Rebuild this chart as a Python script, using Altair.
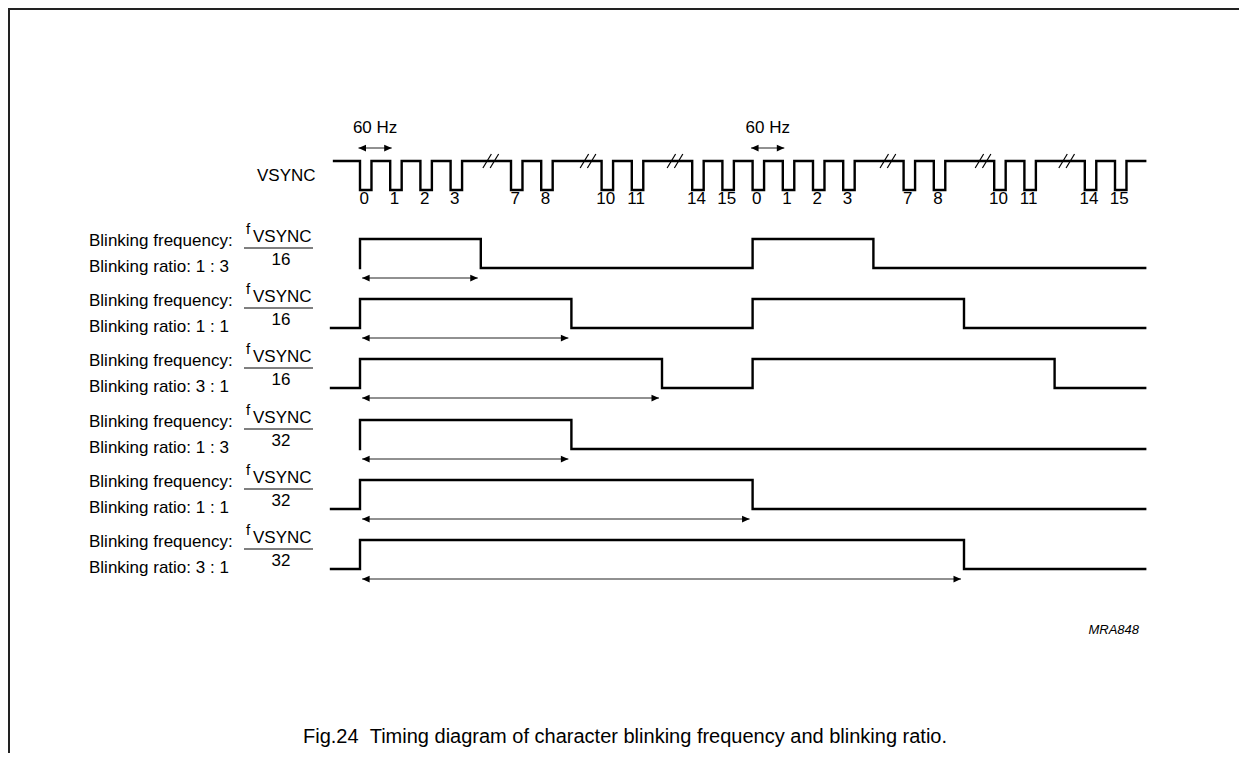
import altair as alt
import pandas as pd

# ---------------- data (time measured in VSYNC slots of the drawing) ----------------
PULSE_SLOTS = [0, 1, 2, 3, 5, 6, 8, 9, 11, 12, 13, 14, 15, 16, 18, 19, 21, 22, 24, 25]
PULSE_LABELS = ["0", "1", "2", "3", "7", "8", "10", "11", "14", "15",
                "0", "1", "2", "3", "7", "8", "10", "11", "14", "15"]
PULSE_WIDTH = 0.38
BREAK_SLOTS = [4.33, 7.55, 10.43, 17.48, 20.63, 23.4]
VSYNC_START = -0.86
TRACE_END = 26.0
PERIOD_MARKERS = [0, 13]          # "60 Hz" spans start here, one slot long

ROW_DIVISORS = ["16", "16", "16", "32", "32", "32"]
ROW_RATIOS = ["1 : 3", "1 : 1", "3 : 1", "1 : 3", "1 : 1", "3 : 1"]
ROW_HIGH = [[(0, 4), (13, 17)], [(0, 7), (13, 20)], [(0, 10), (13, 23)],
            [(0, 7)], [(0, 13)], [(0, 20)]]
ROW_LEAD_IN = [False, True, True, False, True, True]
LEAD_IN_START = -0.96

CAPTION = "Fig.24\u00a0\u00a0Timing diagram of character blinking frequency and blinking ratio."

# ---------------- layout ----------------
W, H = 1231, 745
OX, OY = 8, 8                     # page offset of the view
X0 = (OX - 360) / 30.2
X1 = (OX + W - 360) / 30.2
VS_HIGH, VS_LOW = 161, 190
ROW_TOP = [239, 299, 359, 420, 480, 540]
AMP = 29
FONT = "Liberation Sans"

xs = alt.Scale(domain=[X0, X1], nice=False, zero=False)
ys = alt.Scale(domain=[OY + H, OY], nice=False, zero=False)

# ---------------- build traces ----------------
rows = []
def add(trace, pts):
    for i, (s, y) in enumerate(pts):
        rows.append({"trace": trace, "order": i, "s": s, "y": y})

pts = [(VSYNC_START, VS_HIGH)]
for p in PULSE_SLOTS:
    pts += [(p, VS_HIGH), (p, VS_LOW), (p + PULSE_WIDTH, VS_LOW), (p + PULSE_WIDTH, VS_HIGH)]
pts.append((TRACE_END, VS_HIGH))
add("vsync", pts)

for k, spans in enumerate(ROW_HIGH):
    hi, lo = ROW_TOP[k], ROW_TOP[k] + AMP
    pts = [(LEAD_IN_START, lo)] if ROW_LEAD_IN[k] else []
    for a, b in spans:
        pts += [(a, lo), (a, hi), (b, hi), (b, lo)]
    pts.append((TRACE_END, lo))
    add(f"row{k}", pts)
traces = pd.DataFrame(rows)

slashes = []
for b in BREAK_SLOTS:
    for d in (-0.12, 0.12):
        slashes.append({"s": b + d - 0.14, "s2": b + d + 0.14, "y": VS_HIGH + 7, "y2": VS_HIGH - 7})
slashes = pd.DataFrame(slashes)

arrows = []
for m in PERIOD_MARKERS:
    arrows.append({"s": m - 0.05, "s2": m + 1.05, "y": 148})
for k, spans in enumerate(ROW_HIGH):
    arrows.append({"s": 0.07, "s2": spans[0][1] - 0.1, "y": ROW_TOP[k] + 39})
arrows = pd.DataFrame(arrows)

pulse_txt = pd.DataFrame({"s": [p + PULSE_WIDTH / 2 - 0.05 for p in PULSE_SLOTS],
                          "y": [199] * len(PULSE_SLOTS), "t": PULSE_LABELS})
hz_txt = pd.DataFrame({"s": [m + 0.5 for m in PERIOD_MARKERS], "y": [128] * len(PERIOD_MARKERS),
                       "t": ["60 Hz"] * len(PERIOD_MARKERS)})

lab = pd.DataFrame({
    "y_freq": [t + 2 for t in ROW_TOP],
    "y_ratio": [t + 28 for t in ROW_TOP],
    "y_f": [t - 10 for t in ROW_TOP],
    "y_vs": [t - 2 for t in ROW_TOP],
    "y_line": [t + 9 for t in ROW_TOP],
    "y_den": [t + 21 for t in ROW_TOP],
    "ratio": ["Blinking ratio: " + r for r in ROW_RATIOS],
    "den": ROW_DIVISORS,
})

X = lambda f="s": alt.X(f"{f}:Q", scale=xs, axis=None)
Y = lambda f="y": alt.Y(f"{f}:Q", scale=ys, axis=None)

wave = alt.Chart(traces).mark_line(color="black", strokeWidth=2.4, strokeJoin="miter",
                                   strokeCap="square").encode(
    x=X(), y=Y(), detail="trace:N", order="order:Q")

slash = alt.Chart(slashes).mark_rule(color="black", strokeWidth=1.2).encode(
    x=X(), x2="s2:Q", y=Y(), y2="y2:Q")

shaft = alt.Chart(arrows).mark_rule(color="#222", strokeWidth=1).encode(
    x=X(), x2="s2:Q", y=Y())
head_l = alt.Chart(arrows).mark_point(shape="M0,0L1,-0.45L1,0.45Z", filled=True, size=225,
                                       color="black", opacity=1, strokeWidth=0).encode(x=X(), y=Y())
head_r = alt.Chart(arrows).mark_point(shape="M0,0L-1,-0.45L-1,0.45Z", filled=True, size=225,
                                       color="black", opacity=1, strokeWidth=0).encode(x=X("s2"), y=Y())

pulse_lab = alt.Chart(pulse_txt).mark_text(font=FONT, fontSize=17, align="center",
                                           baseline="middle", color="black").encode(
    x=X(), y=Y(), text="t:N")
hz_lab = alt.Chart(hz_txt).mark_text(font=FONT, fontSize=17, align="center",
                                     baseline="middle", color="black").encode(
    x=X(), y=Y(), text="t:N")

vs_name = alt.Chart(pd.DataFrame({"y": [176], "t": ["VSYNC"]})).mark_text(
    font=FONT, fontSize=17, align="left", baseline="middle", color="black").encode(
    x=alt.value(257 - OX), y=Y(), text="t:N")

lbase = alt.Chart(lab)
freq_t = lbase.mark_text(font=FONT, fontSize=17, align="left", baseline="middle",
                         color="black", text="Blinking frequency:").encode(
    x=alt.value(89 - OX), y=Y("y_freq"))
ratio_t = lbase.mark_text(font=FONT, fontSize=17, align="left", baseline="middle",
                          color="black").encode(x=alt.value(89 - OX), y=Y("y_ratio"), text="ratio:N")
f_t = lbase.mark_text(font=FONT, fontSize=15, align="center", baseline="middle",
                      color="black", text="f").encode(x=alt.value(248 - OX), y=Y("y_f"))
vs_t = lbase.mark_text(font=FONT, fontSize=17, align="left", baseline="middle",
                       color="black", text="VSYNC").encode(x=alt.value(253 - OX), y=Y("y_vs"))
frac = lbase.mark_rule(color="black", strokeWidth=1).encode(
    x=alt.value(244 - OX), x2=alt.value(313 - OX), y=Y("y_line"))
den_t = lbase.mark_text(font=FONT, fontSize=17, align="center", baseline="middle",
                        color="black").encode(x=alt.value(281 - OX), y=Y("y_den"), text="den:N")

code = alt.Chart(pd.DataFrame({"y": [630], "t": ["MRA848"]})).mark_text(
    font=FONT, fontSize=13, fontStyle="italic", align="right", baseline="middle",
    color="black").encode(x=alt.value(1139 - OX), y=Y(), text="t:N")

caption = alt.Chart(pd.DataFrame({"y": [737], "t": [CAPTION]})).mark_text(
    font=FONT, fontSize=20, align="left", baseline="middle", color="black").encode(
    x=alt.value(303 - OX), y=Y(), text="t:N")

border_top = alt.Chart(pd.DataFrame({"y": [0]})).mark_rule(color="#222", strokeWidth=2).encode(
    x=alt.value(0), x2=alt.value(W), y=alt.value(1))
border_left = alt.Chart(pd.DataFrame({"y": [0]})).mark_rule(color="#222", strokeWidth=2).encode(
    x=alt.value(1), y=alt.value(0), y2=alt.value(H))

chart = alt.layer(
    border_top, border_left, wave, slash, shaft, head_l, head_r, pulse_lab, hz_lab, vs_name,
    freq_t, ratio_t, f_t, vs_t, frac, den_t, code, caption
).properties(
    width=W, height=H, padding=0, background="white",
    autosize=alt.AutoSizeParams(type="none")
).configure_view(strokeWidth=0)

chart.save("out.html", embed_options={"renderer": "svg", "actions": False})
